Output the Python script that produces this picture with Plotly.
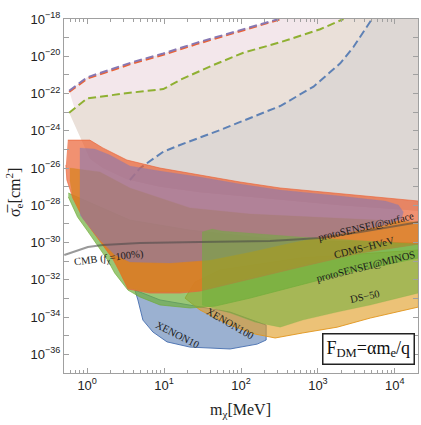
import numpy as np
import plotly.graph_objects as go

# ---------------- data (log10 m_chi [MeV], log10 sigma_e [cm^2]) ----------------
# dashed projection curves
purple_logm = [-0.234, 0.0, 0.60, 0.99, 1.42, 1.86, 2.29, 2.49]
purple_logs = [-21.85, -21.13, -20.30, -19.85, -19.28, -18.74, -18.24, -18.0]
red_logm = [-0.234, 0.0, 0.60, 0.99, 1.42, 1.86, 2.29, 2.50]
red_logs = [-21.92, -21.20, -20.37, -19.92, -19.35, -18.81, -18.31, -18.03]
green_logm = [-0.234, 0.0, 0.556, 0.99, 1.207, 1.641, 2.031, 2.509, 3.030, 3.333]
green_logs = [-23.03, -22.26, -21.96, -21.76, -21.27, -20.47, -19.81, -19.25, -18.55, -18.0]
blue_logm = [0.556, 0.686, 0.990, 1.207, 1.728, 2.509, 2.943, 3.290, 3.464, 3.703]
blue_logs = [-26.64, -26.01, -25.12, -24.76, -23.96, -22.67, -21.63, -20.38, -19.49, -18.0]
# lower limit of the shaded projection areas (hidden under the exclusion regions)
floor_logm = [-0.234, 0.035, 0.204, 0.517, 0.947, 1.467, 1.988, 2.509, 3.290, 4.31]
floor_logs = [-25.5, -25.5, -26.0, -26.6, -27.0, -27.3, -27.5, -27.7, -28.0, -28.3]

# exclusion regions: upper edge (left->right) and lower edge (right->left)
surf_top_m = [-0.251, 0.035, 0.204, 0.517, 0.947, 1.467, 1.988, 2.509, 3.290, 4.306]
surf_top_s = [-24.50, -24.50, -24.92, -25.57, -26.00, -26.37, -26.75, -27.07, -27.39, -27.77]
surf_bot_m = [4.306, 3.551, 2.770, 1.988, 1.467, 1.207, 0.816, 0.530, 0.426, 0.335, 0.204, 0.074, -0.056, -0.186, -0.264, -0.277]
surf_bot_s = [-30.08, -30.56, -31.31, -32.06, -32.60, -32.71, -32.71, -32.49, -31.58, -30.88, -30.13, -29.43, -28.68, -27.61, -26.64, -25.84]

cdms_top_m = [-0.225, 0.165, 0.556, 1.337, 2.118, 3.160, 4.306]
cdms_top_s = [-26.00, -26.21, -27.07, -28.14, -28.47, -28.68, -28.90]
cdms_bot_m = [4.306, 3.551, 2.770, 1.988, 1.467, 1.207, 0.816, 0.530, 0.426, 0.335, 0.204, 0.074, -0.056, -0.186, -0.225]
cdms_bot_s = [-30.02, -30.51, -31.26, -32.01, -32.55, -32.65, -32.65, -32.44, -31.58, -30.88, -30.13, -29.43, -28.68, -27.61, -26.64]

minos_top_m = [-0.245, 0.556, 1.337, 2.509, 4.306]
minos_top_s = [-27.34, -28.79, -29.33, -29.86, -30.02]
minos_bot_m = [4.306, 3.421, 2.770, 2.118, 1.663, 1.337, 0.947, 0.686, 0.530, 0.357, 0.266, 0.135, 0.005, -0.125, -0.245]
minos_bot_s = [-30.83, -31.58, -32.28, -32.98, -33.41, -33.51, -33.35, -32.92, -32.55, -31.63, -30.94, -30.13, -29.38, -28.63, -27.55]

purp_top_m = [-0.095, 0.100, 0.296, 0.556, 0.947, 1.467, 1.988, 2.509, 3.290, 3.876, 4.046, 4.111, 4.085]
purp_top_s = [-24.92, -24.98, -25.30, -25.89, -26.16, -26.48, -26.86, -27.18, -27.50, -27.77, -27.98, -28.36, -28.74]
purp_bot_m = [3.876, 3.421, 3.030, 2.639, 2.118, 1.598, 1.077, 0.556, 0.361, 0.165, -0.095]
purp_bot_s = [-29.06, -29.43, -29.70, -30.02, -30.51, -30.94, -31.10, -31.04, -30.67, -29.86, -28.52]

ds50_top_m = [1.493, 1.624, 1.754, 2.249, 2.770, 3.421, 4.306]
ds50_top_s = [-29.43, -29.27, -29.38, -29.54, -29.70, -29.86, -30.08]
ds50_bot_m = [4.306, 3.681, 3.251, 2.803, 2.509, 2.184, 1.858, 1.598, 1.493]
ds50_bot_s = [-32.71, -33.35, -33.73, -34.16, -34.54, -34.27, -33.78, -33.46, -33.35]

x100_top_m = [1.272, 1.402, 1.728, 2.770, 4.306]
x100_top_s = [-32.98, -32.12, -31.47, -30.83, -30.40]
x100_bot_m = [4.306, 3.681, 3.251, 2.803, 2.444, 2.184, 1.858, 1.467, 1.272]
x100_bot_s = [-33.46, -34.05, -34.54, -34.85, -35.12, -34.91, -34.43, -33.62, -32.98]

x10_bot_m = [0.621, 0.660, 0.725, 0.855, 1.038, 1.337, 1.858, 2.210, 2.327]
x10_bot_s = [-32.55, -33.08, -34.16, -34.80, -35.33, -35.61, -35.71, -35.45, -35.23]
x10_top_m = [2.327, 1.858, 1.337, 0.947, 0.621]
x10_top_s = [-34.43, -33.73, -33.35, -33.08, -32.55]

cmb_logm = [-0.297, 0.009, 0.204, 0.686, 1.467, 2.379, 3.030, 3.551, 4.306]
cmb_logs = [-30.67, -30.24, -30.13, -30.02, -29.97, -29.92, -29.76, -29.43, -28.90]

x_ticks = [1, 10, 100, 1000, 10000]
x_ticktext = ["10<sup>0</sup>", "10<sup>1</sup>", "10<sup>2</sup>", "10<sup>3</sup>", "10<sup>4</sup>"]
y_label_exps = list(range(-18, -38, -2))
y_ticktext = ["10<sup>\u2212%d</sup>" % (-e) for e in y_label_exps]
y_minor_exps = list(range(-19, -38, -2))

# ---------------- figure ----------------
fig = go.Figure()
TOP = -18.0
RIGHT = 4.31


def tr(lm, ls):
    return np.power(10.0, np.array(lm, dtype=float)), np.power(10.0, np.array(ls, dtype=float))


def add_poly(lm, ls, fill, line=None, width=0.0):
    x, y = tr(lm, ls)
    fig.add_trace(go.Scatter(x=x, y=y, mode="lines", fill="toself", fillcolor=fill,
                             line=dict(color=line or fill, width=width),
                             hoverinfo="skip", showlegend=False))


def add_line(lm, ls, color, width=2.0, dash=None):
    x, y = tr(lm, ls)
    fig.add_trace(go.Scatter(x=x, y=y, mode="lines",
                             line=dict(color=color, width=width, dash=dash),
                             hoverinfo="skip", showlegend=False))


def bg_poly(cm, cs):
    fm = [m for m in floor_logm[::-1] if m > cm[0]]
    fs = [s for m, s in zip(floor_logm[::-1], floor_logs[::-1]) if m > cm[0]]
    return list(cm) + [RIGHT] + fm, list(cs) + [TOP] + fs


# shaded projection areas (opaque pastel)
m, s = bg_poly(purple_logm, purple_logs)
add_poly(m, s, "#f3e7eb")
m, s = bg_poly(green_logm, green_logs)
add_poly(m, s, "#eae0d9")
m, s = bg_poly(blue_logm, blue_logs)
add_poly(m, s, "#ddd7d4")

# dashed projection curves
DASH = "8px,4px"
add_line(red_logm, red_logs, "#EB6235", 2.0, DASH)
add_line(purple_logm, purple_logs, "#8778B3", 2.0, DASH)
add_line(green_logm, green_logs, "#8FB032", 2.0, DASH)
add_line(blue_logm, blue_logs, "#5E81B5", 2.0, DASH)

# exclusion regions
add_poly(x10_bot_m + x10_top_m, x10_bot_s + x10_top_s, "rgba(94,129,181,0.62)", "rgba(70,110,175,0.9)", 1.0)
add_poly(x100_top_m + x100_bot_m, x100_top_s + x100_bot_s, "rgba(225,156,36,0.62)", "rgba(225,150,30,0.9)", 1.0)
add_poly(minos_top_m + minos_bot_m, minos_top_s + minos_bot_s, "rgba(110,175,60,0.70)", "rgba(110,170,50,0.8)", 0.8)
add_poly(surf_top_m + surf_bot_m, surf_top_s + surf_bot_s, "rgba(235,98,53,0.70)", "rgba(235,98,53,0.8)", 0.8)
add_poly(cdms_top_m + cdms_bot_m, cdms_top_s + cdms_bot_s, "rgba(215,130,30,0.70)", "rgba(215,130,30,0.5)", 0.5)
add_poly(purp_top_m + purp_bot_m, purp_top_s + purp_bot_s, "rgba(135,120,179,0.60)", "rgba(135,120,179,0.3)", 0.5)
add_poly(ds50_top_m + ds50_bot_m, ds50_top_s + ds50_bot_s, "rgba(110,175,60,0.55)", "rgba(110,175,60,0.3)", 0.5)

# CMB line
add_line(cmb_logm, cmb_logs, "rgba(70,70,70,0.55)", 2.0)

# ---------------- labels ----------------
SERIF = "Liberation Serif"
labels = [
    ("protoSENSEI@surface", 3.629, -29.11, -13),
    ("CDMS\u2212HVeV", 3.603, -30.24, -14),
    ("protoSENSEI@MINOS", 3.616, -31.26, -14),
    ("DS\u221250", 3.616, -32.92, -12),
    ("XENON100", 1.858, -34.32, 30),
    ("XENON10", 1.168, -34.91, 27),
    ("CMB (<i>f</i><sub>\u03c7</sub>=100%)", 0.284, -30.83, -7),
]
for text, lx, ly, ang in labels:
    fig.add_annotation(x=lx, y=ly, xref="x", yref="y", text=text, showarrow=False,
                       textangle=ang, xanchor="center", yanchor="middle",
                       font=dict(family=SERIF, size=10.5, color="#1a1a1a"))

fig.add_annotation(x=3.655, y=-35.69, xref="x", yref="y",
                   text="F<sub>DM</sub>=\u03b1m<sub>e</sub>/q", showarrow=False,
                   xanchor="center", yanchor="middle",
                   font=dict(family=SERIF, size=18, color="#111"),
                   bordercolor="#222", borderwidth=1.5, borderpad=3, bgcolor="white")

# axis titles
fig.add_annotation(x=(240 - 64) / 354, y=(373 - 410) / 354, xref="paper", yref="paper",
                   text="m<sub>\u03c7</sub>[MeV]", showarrow=False,
                   xanchor="center", yanchor="middle",
                   font=dict(family=SERIF, size=16, color="#222"))
fig.add_annotation(x=(14 - 64) / 354, y=(373 - 193) / 354, xref="paper", yref="paper",
                   text="\u03c3\u0305<sub>e</sub>[cm<sup>2</sup>]", showarrow=False, textangle=-90,
                   xanchor="center", yanchor="middle",
                   font=dict(family=SERIF, size=16, color="#222"))

minor_x = [d * 10.0 ** e for e in range(-1, 5) for d in range(2, 10)]
FRAME = "#a0a0a0"
fig.update_xaxes(type="log", range=[np.log10(0.5), np.log10(2e4)], automargin=False,
                 tickmode="array", tickvals=x_ticks, ticktext=x_ticktext,
                 ticks="inside", ticklen=5, tickcolor=FRAME, tickwidth=1,
                 showline=True, linecolor=FRAME, linewidth=1, mirror="ticks",
                 showgrid=False, zeroline=False,
                 tickfont=dict(family="Liberation Sans", size=13, color="#222"),
                 minor=dict(tickmode="array", tickvals=minor_x, ticks="inside", ticklen=3,
                            tickcolor=FRAME, showgrid=False))
fig.update_yaxes(type="log", range=[-37, -18], automargin=False,
                 tickmode="array", tickvals=[10.0 ** e for e in y_label_exps], ticktext=y_ticktext,
                 ticks="inside", ticklen=5, tickcolor=FRAME, tickwidth=1,
                 showline=True, linecolor=FRAME, linewidth=1, mirror="ticks",
                 showgrid=False, zeroline=False,
                 tickfont=dict(family="Liberation Sans", size=13, color="#222"),
                 minor=dict(tickmode="array", tickvals=[10.0 ** e for e in y_minor_exps],
                            ticks="inside", ticklen=5, tickcolor=FRAME, showgrid=False))

fig.update_layout(width=421, height=425, margin=dict(l=64, r=3, t=19, b=52),
                  plot_bgcolor="white", paper_bgcolor="white", showlegend=False,
                  hovermode=False)

fig.write_html("out.html", config={"displayModeBar": False},
               post_script="document.body.style.margin='0px';")
